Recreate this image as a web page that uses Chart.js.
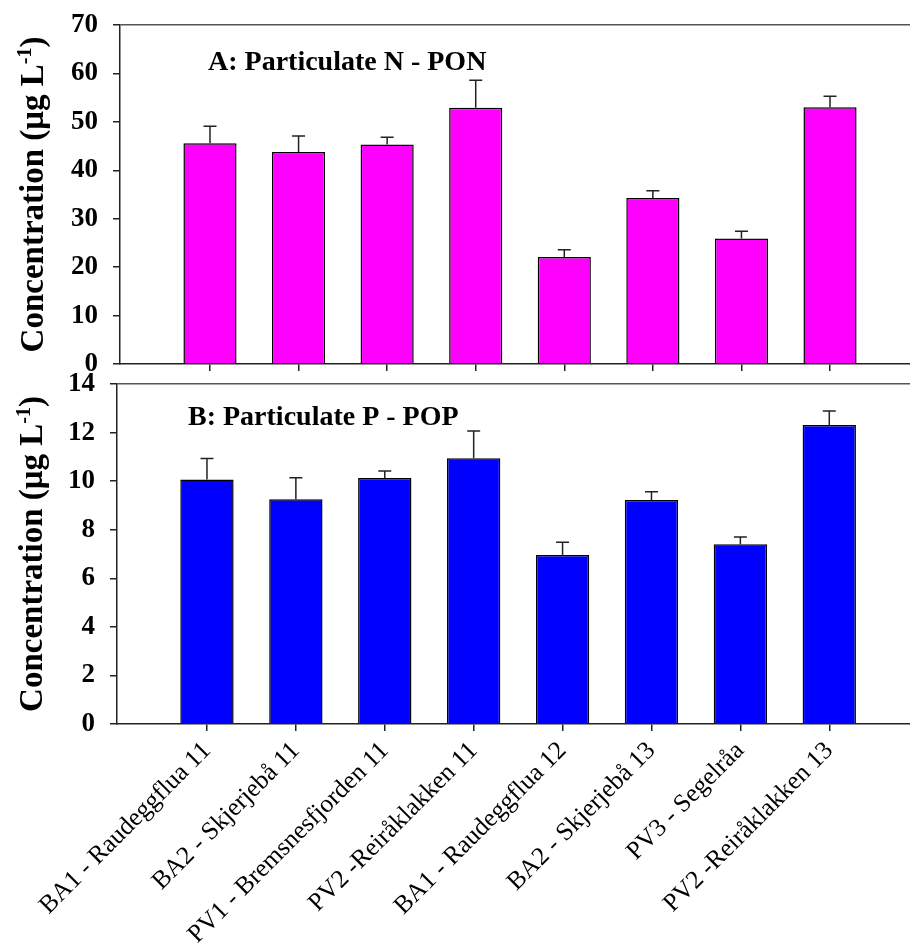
<!DOCTYPE html>
<html>
<head>
<meta charset="utf-8">
<script src="https://cdn.jsdelivr.net/npm/chart.js@4.4.1/dist/chart.umd.min.js"></script>
<style>
  html, body { margin: 0; padding: 0; background: #fff; }
  #wrap { position: relative; width: 910px; height: 948px; overflow: hidden; }
  .box { position: absolute; left: 0; width: 910px; }
  #boxA { top: 0; height: 380px; }
  #boxB { top: 364px; height: 584px; }
</style>
</head>
<body>
<div id="wrap">
  <div class="box" id="boxA"><canvas id="chartA"></canvas></div>
  <div class="box" id="boxB"><canvas id="chartB"></canvas></div>
</div>
<script>
// sites (x axis)
const sites = [
  'BA1 - Raudeggflua 11',
  'BA2 - Skjerjebå 11',
  'PV1 - Bremsnesfjorden 11',
  'PV2 -Reiråklakken 11',
  'BA1 - Raudeggflua 12',
  'BA2 - Skjerjebå 13',
  'PV3 - Segelråa',
  'PV2 -Reiråklakken 13'
];

// A: particulate N (µg/L), mean and error
const ponMean = [45.6, 43.8, 45.3, 52.9, 22.1, 34.3, 25.9, 53.0];
const ponErr  = [3.5, 3.3, 1.5, 5.7, 1.5, 1.5, 1.5, 2.3];

// B: particulate P (µg/L), mean and error
const popMean = [10.07, 9.25, 10.13, 10.94, 6.96, 9.22, 7.40, 12.31];
const popErr  = [0.86, 0.89, 0.29, 1.12, 0.52, 0.34, 0.30, 0.58];

const serif = "'Liberation Serif', 'Times New Roman', serif";

// error bars (only upward) drawn over the bars
const errorBars = {
  id: 'errorBars',
  afterDatasetsDraw(chart) {
    const ctx = chart.ctx;
    const yScale = chart.scales.y;
    chart.data.datasets.forEach((ds, di) => {
      const meta = chart.getDatasetMeta(di);
      meta.data.forEach((bar, i) => {
        const top = yScale.getPixelForValue(ds.data[i].y + ds.errors[i]);
        ctx.save();
        ctx.strokeStyle = '#222';
        ctx.lineWidth = 1.5;
        ctx.beginPath();
        ctx.moveTo(bar.x, bar.y);
        ctx.lineTo(bar.x, top);
        ctx.moveTo(bar.x - 6.5, top);
        ctx.lineTo(bar.x + 6.5, top);
        ctx.stroke();
        ctx.restore();
      });
    });
  }
};

// panel label inside the plot
const panelLabel = {
  id: 'panelLabel',
  afterDraw(chart, args, opts) {
    const a = chart.chartArea;
    const ctx = chart.ctx;
    ctx.save();
    ctx.font = 'bold 28px ' + serif;
    ctx.fillStyle = '#000';
    ctx.textBaseline = 'alphabetic';
    ctx.fillText(opts.text, a.left + opts.dx, a.top + opts.dy);
    ctx.restore();
  }
};

// y title with superscript -1
const yTitle = {
  id: 'yTitle',
  afterDraw(chart, args, opts) {
    const a = chart.chartArea;
    const ctx = chart.ctx;
    const big = 'bold 33px ' + serif;
    const small = 'bold 20px ' + serif;
    const main = 'Concentration (μg L', sup = '-1', close = ')';
    ctx.save();
    ctx.font = big;
    const w1 = ctx.measureText(main).width;
    const w3 = ctx.measureText(close).width;
    ctx.font = small;
    const w2 = ctx.measureText(sup).width;
    const x0 = -(w1 + w2 + w3) / 2;
    ctx.translate(opts.x, (a.top + a.bottom) / 2);
    ctx.rotate(-Math.PI / 2);
    ctx.fillStyle = '#000';
    ctx.textAlign = 'left';
    ctx.textBaseline = 'alphabetic';
    ctx.font = big;
    ctx.fillText(main, x0, 0);
    ctx.font = small;
    ctx.fillText(sup, x0 + w1, -12);
    ctx.font = big;
    ctx.fillText(close, x0 + w1 + w2, 0);
    ctx.restore();
  }
};

function makeChart(id, means, errs, color, o) {
  return new Chart(document.getElementById(id), {
    type: 'bar',
    data: {
      datasets: [{
        data: means.map((v, i) => ({ x: i, y: v })),
        errors: errs,
        backgroundColor: color,
        borderColor: '#000',
        borderWidth: 1.5,
        barPercentage: 0.6,
        categoryPercentage: 1.0
      }]
    },
    options: {
      responsive: true,
      maintainAspectRatio: false,
      animation: false,
      layout: { padding: { top: o.padTop, left: 0, right: 0, bottom: 0 } },
      plugins: {
        legend: { display: false },
        tooltip: { enabled: false },
        panelLabel: { text: o.panel, dx: o.panelDx, dy: o.panelDy },
        yTitle: { x: o.titleX }
      },
      scales: {
        x: {
          type: 'linear',
          min: o.xMin,
          max: o.xMax,
          offset: false,
          afterBuildTicks: axis => { axis.ticks = sites.map((s, i) => ({ value: i })); },
          afterFit: axis => {
            axis.height = o.xHeight;
            axis.paddingLeft = 0;
            axis.paddingRight = 0;
          },
          grid: { offset: false, drawOnChartArea: false, drawTicks: true, tickLength: 7, color: '#222', lineWidth: 1.5 },
          border: { display: true, color: '#222', width: 1.5 },
          ticks: {
            display: o.showLabels,
            autoSkip: false,
            minRotation: 45,
            maxRotation: 45,
            padding: 5,
            color: '#000',
            font: { family: serif, size: 25.5 },
            callback: v => sites[v]
          }
        },
        y: {
          min: 0,
          max: o.yMax,
          afterFit: axis => {
            axis.width = o.yWidth;
            axis.paddingTop = 0;
            axis.paddingBottom = 0;
          },
          grid: {
            color: ctx => (ctx.tick && ctx.tick.value === o.yMax) ? '#555' : 'rgba(0,0,0,0)',
            tickColor: '#222',
            tickLength: 7,
            lineWidth: 1.5
          },
          border: { display: true, color: '#222', width: 1.5 },
          ticks: {
            stepSize: o.yStep,
            padding: 15,
            color: '#000',
            font: { family: serif, size: 27, weight: 'bold' }
          }
        }
      }
    },
    plugins: [errorBars, panelLabel, yTitle]
  });
}

makeChart('chartA', ponMean, ponErr, '#ff00ff', {
  padTop: 25, yWidth: 120, xHeight: 16, xMin: -1.016, xMax: 7.903,
  yMax: 70, yStep: 10, showLabels: false,
  panel: 'A: Particulate N - PON', panelDx: 88, panelDy: 45, titleX: 43
});

makeChart('chartB', popMean, popErr, '#0000ff', {
  padTop: 20, yWidth: 117, xHeight: 224, xMin: -1.012, xMax: 7.908,
  yMax: 14, yStep: 2, showLabels: true,
  panel: 'B: Particulate P - POP', panelDx: 71, panelDy: 41, titleX: 42
});
</script>
</body>
</html>
